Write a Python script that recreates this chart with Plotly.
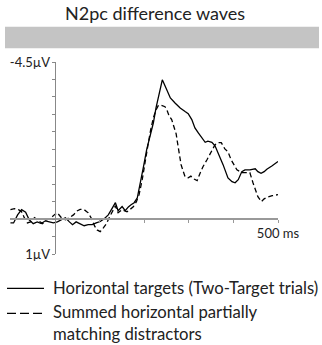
import plotly.graph_objects as go

# ---- data (time in ms, amplitude in microvolts; negative plotted upward) ----
solid_t = [-99, -92, -83, -74, -65, -57, -48, -39, -30, -21, -12, -3, 6, 15, 24, 33, 40, 48, 57, 66,
           75, 84, 93, 102, 111, 120, 127, 136, 142, 151, 158, 165, 171, 178, 185, 191, 199, 206, 214,
           221, 227, 232, 237, 241, 246, 251, 259, 270, 281, 292, 299, 307, 314, 322, 330, 337, 343,
           352, 359, 366, 377, 388, 397, 404, 411, 419, 426, 437, 449, 455, 462, 469, 475, 487, 500]
solid_v = [0.11, 0.11, -0.12, -0.27, -0.20, 0.02, 0.13, 0.08, 0.13, 0.05, 0.08, 0.11, 0.08, 0.02,
           -0.04, 0.08, 0.16, 0.08, 0.13, 0.19, 0.16, 0.16, 0.11, 0.07, -0.01, -0.12, -0.27, -0.47,
           -0.24, -0.36, -0.24, -0.35, -0.41, -0.47, -0.61, -1.04, -1.51, -1.99, -2.39, -2.76, -3.19,
           -3.51, -3.82, -3.99, -3.85, -3.70, -3.47, -3.32, -3.18, -3.08, -3.02, -2.85, -2.61, -2.46,
           -2.30, -2.20, -2.23, -2.20, -2.10, -1.90, -1.56, -1.18, -1.07, -1.04, -1.13, -1.36, -1.41,
           -1.41, -1.44, -1.36, -1.31, -1.36, -1.43, -1.53, -1.65]

dashed_t = [-99, -90, -81, -74, -68, -61, -54, -45, -36, -27, -19, -10, -1, 6, 15, 24, 33, 42, 51, 57,
            66, 75, 84, 89, 95, 102, 109, 116, 122, 129, 136, 142, 151, 162, 169, 176, 183, 189, 196,
            203, 209, 215, 221, 227, 232, 236, 243, 247, 252, 256, 262, 267, 272, 275, 279, 283, 288,
            292, 299, 305, 312, 319, 326, 332, 341, 352, 359, 366, 373, 381, 388, 395, 402, 408, 419,
            428, 437, 444, 451, 455, 463, 469, 475, 487, 500]
dashed_v = [-0.27, -0.30, -0.27, -0.21, -0.04, 0.11, 0.08, -0.04, 0.05, 0.13, 0.02, -0.01, -0.12,
            -0.18, -0.04, 0.02, -0.04, -0.12, -0.24, -0.28, -0.27, -0.18, 0.02, 0.19, 0.31, 0.36,
            0.25, 0.13, -0.04, -0.21, -0.38, -0.18, -0.27, -0.21, -0.27, -0.35, -0.50, -0.70, -1.13,
            -1.61, -2.13, -2.56, -2.90, -3.13, -3.25, -3.27, -3.25, -3.22, -3.10, -2.96, -2.85, -2.67,
            -2.44, -2.19, -1.84, -1.56, -1.36, -1.21, -1.18, -1.23, -1.15, -1.10, -1.33, -1.50, -1.70,
            -1.94, -2.13, -2.19, -2.19, -2.01, -1.93, -1.70, -1.53, -1.41, -1.33, -1.33, -1.33, -1.04,
            -0.81, -0.64, -0.50, -0.58, -0.62, -0.67, -0.70]

y_tickvals = [-4.5, -4.0, -3.5, -3.0, -2.5, -2.0, -1.5, -1.0, -0.5, 0.0, 0.5, 1.0]
y_ticktext = ['-4.5µV', '', '', '', '', '', '', '', '', '', '', '1µV']
x_tickvals = [100, 200, 300, 400, 500]
x_ticktext = ['', '', '', '', '500 ms']

title_text = 'N2pc difference waves'
legend_solid = 'Horizontal targets (Two-Target trials)'
legend_dashed = 'Summed horizontal partially<br>matching distractors'

FONT = 'Lato'
W, H = 322, 345
L, R, T, B = 10, 44, 62, 91
PW, PH = W - L - R, H - T - B


def px(x):
    return (x - L) / PW


def py(y):
    return (H - B - y) / PH


fig = go.Figure()
fig.add_trace(go.Scatter(x=solid_t, y=solid_v, mode='lines',
                         line=dict(color='black', width=1.3), showlegend=False))
fig.add_trace(go.Scatter(x=dashed_t, y=dashed_v, mode='lines',
                         line=dict(color='black', width=1.3, dash='5px,3px'), showlegend=False))

fig.update_layout(
    width=W, height=H,
    margin=dict(l=L, r=R, t=T, b=B, pad=0),
    paper_bgcolor='white', plot_bgcolor='white',
    showlegend=False,
    font=dict(family=FONT, color='#222'),
    xaxis=dict(range=[-100, 500], showgrid=False, zeroline=False,
               showline=True, linecolor='#999', linewidth=1.5,
               anchor='free', position=1 / 5.5,
               tickmode='array', tickvals=x_tickvals, ticktext=x_ticktext,
               ticks='outside', ticklen=3, tickcolor='#999', tickwidth=1,
               tickfont=dict(family=FONT, size=13, color='#222')),
    yaxis=dict(range=[1, -4.5], showgrid=False, zeroline=False,
               showline=True, linecolor='#888', linewidth=1,
               anchor='free', position=1 / 6,
               tickmode='array', tickvals=y_tickvals, ticktext=y_ticktext,
               ticks='outside', ticklen=3, tickcolor='#888', tickwidth=1,
               ticklabelstandoff=-1,
               tickfont=dict(family=FONT, size=13, color='#222')),
)

# title
fig.add_annotation(xref='paper', yref='paper', x=px(155), y=py(13.5), text=title_text,
                   showarrow=False, xanchor='center', yanchor='middle',
                   font=dict(family=FONT, size=18, color='#222'))

# gray banner under title
fig.add_shape(type='rect', xref='paper', yref='paper',
              x0=px(5), x1=px(319), y0=py(48.3), y1=py(26.7),
              fillcolor='#c4c4c4', line=dict(width=0), layer='below')

# legend samples
fig.add_shape(type='line', xref='paper', yref='paper',
              x0=px(7), x1=px(44), y0=py(288.3), y1=py(288.3),
              line=dict(color='black', width=1.3))
fig.add_shape(type='line', xref='paper', yref='paper',
              x0=px(7), x1=px(42), y0=py(313.3), y1=py(313.3),
              line=dict(color='black', width=1.3, dash='9px,4px'))
fig.add_annotation(xref='paper', yref='paper', x=px(51), y=py(288.3), text=legend_solid,
                   showarrow=False, xanchor='left', yanchor='middle', align='left',
                   font=dict(family=FONT, size=16.7, color='#222'))
fig.add_annotation(xref='paper', yref='paper', x=px(51), y=py(322.5), text=legend_dashed,
                   showarrow=False, xanchor='left', yanchor='middle', align='left',
                   font=dict(family=FONT, size=16.7, color='#222'))

fig.write_html('out.html')
